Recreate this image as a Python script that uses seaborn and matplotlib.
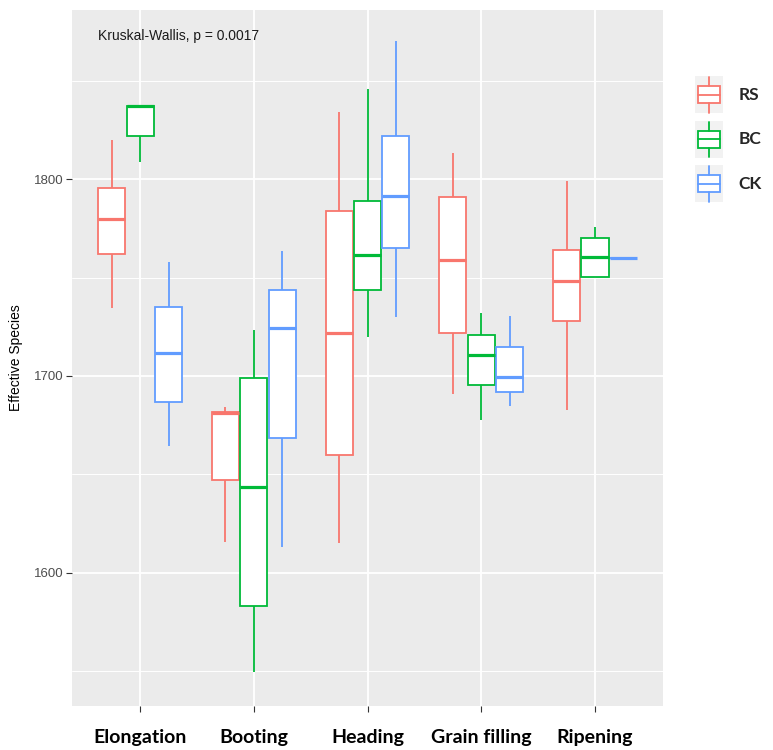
import numpy as np
import pandas as pd
import seaborn as sns
import matplotlib
matplotlib.use("Agg")
import matplotlib.pyplot as plt
from matplotlib.legend_handler import HandlerBase
from matplotlib.patches import Rectangle, Patch
from matplotlib.lines import Line2D


stages = ["Elongation", "Booting", "Heading", "Grain filling", "Ripening"]
groups = ["RS", "BC", "CK"]
colors = ["#F8766D", "#00BA38", "#619CFF"]

# five samples per stage: low whisker, Q1, median, Q3, high whisker
rs_values = [
    [1734.5, 1762.0, 1779.7, 1795.4, 1820.0],
    [1615.7, 1647.2, 1681.0, 1681.7, 1684.0],
    [1615.0, 1660.0, 1722.0, 1784.0, 1834.0],
    [1690.9, 1721.8, 1759.0, 1791.0, 1813.0],
    [1682.7, 1728.0, 1748.0, 1764.0, 1799.0],
]
bc_values = [
    [1808.6, 1822.0, 1837.0, 1837.0, 1837.0],
    [1549.7, 1583.0, 1643.7, 1699.0, 1723.4],
    [1719.8, 1743.7, 1761.4, 1788.8, 1845.7],
    [1677.7, 1695.4, 1710.7, 1721.0, 1732.0],
    [1750.3, 1750.3, 1760.4, 1770.0, 1775.6],
]
ck_values = [
    [1664.5, 1687.0, 1711.7, 1735.0, 1758.0],
    [1613.0, 1668.5, 1724.4, 1743.7, 1763.5],
    [1730.0, 1765.0, 1791.4, 1822.0, 1870.0],
    [1684.8, 1691.9, 1699.5, 1714.7, 1730.5],
    [1759.6, 1759.8, 1760.0, 1760.1, 1760.3],
]
stat_label = "Kruskal-Wallis, p = 0.0017"

rows = []
for g, vals in zip(groups, [rs_values, bc_values, ck_values]):
    for s, v in zip(stages, vals):
        for x in v:
            rows.append((s, g, x))
df = pd.DataFrame(rows, columns=["stage", "group", "value"])

sns.set_theme(style="darkgrid")
plt.rcParams["font.family"] = ["Liberation Sans", "DejaVu Sans"]

fig = plt.figure(figsize=(7.73, 7.5), dpi=100)
ax = fig.add_axes([0.093, 0.059, 0.765, 0.928])

sns.boxplot(data=df, x="stage", y="value", hue="group", order=stages,
            hue_order=groups, palette=colors, width=0.75, gap=0.05,
            showcaps=False, whis=1.5, linewidth=1.3, legend=False, ax=ax,
            medianprops={"linewidth": 2.3})

for cont, c in zip(ax.containers, colors):
    for b in cont.boxes:
        b.set_facecolor("white")
        b.set_edgecolor(c)
        b.set_zorder(3)
    for ln in list(cont.whiskers) + list(cont.medians):
        ln.set_color(c)
    for ln in cont.medians:
        ln.set_zorder(4)

ax.set_facecolor("#EBEBEB")
ax.set_ylim(1532.5, 1886)
ax.set_xlim(-0.6, 4.6)
ax.set_yticks([1600, 1700, 1800])
ax.set_yticks([1550, 1650, 1750, 1850], minor=True)
ax.grid(True, which="major", color="white", linewidth=1.3)
ax.grid(True, which="minor", axis="y", color="white", linewidth=0.7)
for sp in ax.spines.values():
    sp.set_visible(False)

ax.tick_params(axis="y", which="major", length=4, width=0.8, color="#333333",
               labelsize=9.5, labelcolor="#4D4D4D", left=True, pad=2)
ax.tick_params(axis="y", which="minor", length=0)
ax.tick_params(axis="x", length=4, width=0.8, color="#333333", bottom=True, pad=13)
for lab in ax.get_xticklabels():
    lab.set_fontfamily(["Lato", "DejaVu Sans"])
    lab.set_fontweight("bold")
    lab.set_fontsize(14)
    lab.set_color("black")

ax.set_xlabel("")
ax.set_ylabel("Effective Species", fontsize=10, color="black", labelpad=8)

ax.text(-0.37, 1872.6, stat_label, fontsize=10, color="#1A1A1A", va="center", ha="left")


class BoxKey(HandlerBase):
    def create_artists(self, legend, orig_handle, xdescent, ydescent,
                       width, height, fontsize, trans):
        c = orig_handle.get_edgecolor()
        x0, y0 = -xdescent, -ydescent
        bg = Rectangle((x0, y0), width, height, facecolor="#F2F2F2",
                       edgecolor="none", transform=trans)
        bx = Rectangle((x0 + 0.12 * width, y0 + 0.27 * height), 0.76 * width,
                       0.46 * height, facecolor="white", edgecolor=c,
                       linewidth=1.3, transform=trans)
        med = Line2D([x0 + 0.12 * width, x0 + 0.88 * width],
                     [y0 + 0.5 * height] * 2, color=c, linewidth=1.3, transform=trans)
        w1 = Line2D([x0 + 0.5 * width] * 2, [y0 + 0.02 * height, y0 + 0.27 * height],
                    color=c, linewidth=1.3, transform=trans)
        w2 = Line2D([x0 + 0.5 * width] * 2, [y0 + 0.73 * height, y0 + 0.98 * height],
                    color=c, linewidth=1.3, transform=trans)
        return [bg, bx, med, w1, w2]


handles = [Patch(facecolor="white", edgecolor=c) for c in colors]
leg = fig.legend(handles, groups, handler_map={Patch: BoxKey()},
                 loc="upper left", bbox_to_anchor=(0.879, 0.919), frameon=False,
                 handlelength=1.6, handleheight=2.9, labelspacing=0.43,
                 handletextpad=0.9, prop={"family": ["Lato", "DejaVu Sans"],
                                          "weight": "bold", "size": 12.5})

fig.savefig("out.png", dpi=100, facecolor="white")
